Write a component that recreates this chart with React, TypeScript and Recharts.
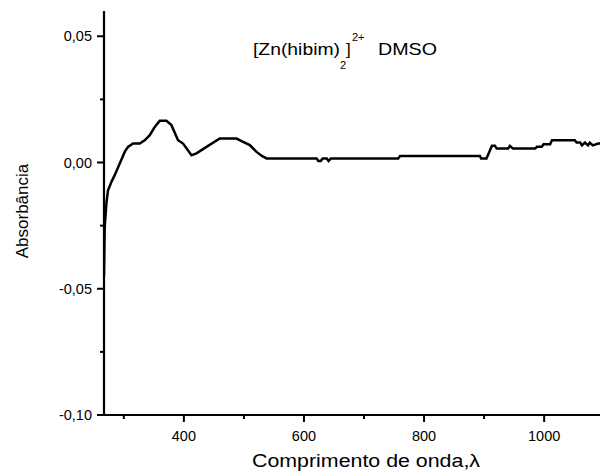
import React from 'react';
import { LineChart, Line, XAxis, YAxis } from 'recharts';

const wavelengths: number[] = [
  267, 268.2, 271, 273.7, 279.3, 284.8, 293.2, 301.5, 307, 315.3, 326.5, 334.8, 343.2, 351.5,
  359.8, 371, 379.3, 390.3, 398.7, 412.7, 421, 437.7, 459.8, 487.7, 498.7, 509.8, 521, 530,
  537.7, 621, 624, 628, 631, 638, 641, 645, 757, 760, 893, 895, 904, 913, 918, 921, 940, 943,
  948, 985, 988, 996, 999, 1010, 1013, 1051, 1054, 1060, 1063, 1068, 1073, 1076, 1081, 1090, 1093,
];
const absorbance: number[] = [
  -0.045, -0.0255, -0.0161, -0.011, -0.0077, -0.005, -0.0004, 0.0042, 0.0062, 0.0075, 0.0075,
  0.0088, 0.0108, 0.0141, 0.0165, 0.0165, 0.0148, 0.0088, 0.0075, 0.0029, 0.0036, 0.0062, 0.0095,
  0.0095, 0.0082, 0.0069, 0.0042, 0.0026, 0.0016, 0.0016, 0.0006, 0.0006, 0.0016, 0.0016, 0.0006,
  0.0016, 0.0016, 0.0026, 0.0026, 0.0016, 0.0016, 0.0066, 0.0066, 0.0055, 0.0055, 0.0066, 0.0055,
  0.0055, 0.0062, 0.0062, 0.0072, 0.0072, 0.0088, 0.0088, 0.0079, 0.0079, 0.0068, 0.0079, 0.0068,
  0.0079, 0.0068, 0.0075, 0.0075,
];
const xTicks: number[] = [300, 400, 500, 600, 700, 800, 900, 1000];
const xMajor: number[] = [400, 600, 800, 1000];
const yTicks: number[] = [-0.1, -0.075, -0.05, -0.025, 0, 0.025, 0.05];
const yMajor: number[] = [-0.1, -0.05, 0, 0.05];

const xTitle = 'Comprimento de onda,λ';
const yTitle = 'Absorbância';

const data = wavelengths.map((x, i) => ({ x, y: absorbance[i] }));

const FONT = '"Liberation Sans", Arial, sans-serif';

const XTick = (props: any) => {
  const { x, y, payload } = props;
  const major = xMajor.includes(payload.value);
  return (
    <g>
      <line x1={x} y1={y} x2={x} y2={y + (major ? 7 : 4)} stroke="#000" strokeWidth={2} />
      {major && (
        <text x={x} y={y + 26} textAnchor="middle" fontSize={14.5} fontFamily={FONT} fill="#000">
          {payload.value}
        </text>
      )}
    </g>
  );
};

const fmtY = (v: number) => v.toFixed(2).replace('.', ',');

const YTick = (props: any) => {
  const { x, y, payload } = props;
  const major = yMajor.some((m) => Math.abs(m - payload.value) < 1e-9);
  return (
    <g>
      <line x1={x} y1={y} x2={x - (major ? 7 : 4)} y2={y} stroke="#000" strokeWidth={2} />
      {major && (
        <text x={x - 12} y={y + 5} textAnchor="end" fontSize={14.5} fontFamily={FONT} fill="#000">
          {fmtY(payload.value)}
        </text>
      )}
    </g>
  );
};

export default function App() {
  return (
    <div
      style={{
        position: 'absolute',
        left: 0,
        top: 0,
        width: 600,
        height: 474,
        background: '#fff',
        overflow: 'hidden',
      }}
    >
      <LineChart width={620} height={474} data={data} margin={{ top: 11, right: 20, bottom: 0, left: 0 }}>
        <XAxis
          dataKey="x"
          type="number"
          domain={[267, 1093]}
          allowDataOverflow
          ticks={xTicks}
          interval={0}
          height={59}
          tickSize={0}
          tickMargin={0}
          tickLine={false}
          axisLine={{ stroke: '#000', strokeWidth: 2.2 }}
          tick={(p: any) => <XTick {...p} />}
        />
        <YAxis
          type="number"
          domain={[-0.1, 0.06]}
          allowDataOverflow
          ticks={yTicks}
          interval={0}
          width={104}
          tickSize={0}
          tickMargin={0}
          tickLine={false}
          axisLine={{ stroke: '#000', strokeWidth: 2.2 }}
          tick={(p: any) => <YTick {...p} />}
        />
        <Line
          dataKey="y"
          type="linear"
          stroke="#000"
          strokeWidth={2.5}
          dot={false}
          isAnimationActive={false}
        />
      </LineChart>
      <svg
        width={600}
        height={474}
        style={{ position: 'absolute', left: 0, top: 0, pointerEvents: 'none' }}
      >
        <g fontFamily={FONT} fill="#000">
          <text x={253} y={55} fontSize={17} textLength={87} lengthAdjust="spacingAndGlyphs">
            [Zn(hibim)
          </text>
          <text x={340} y={69} fontSize={11}>2</text>
          <text x={346} y={55} fontSize={17}>]</text>
          <text x={352} y={41} fontSize={11}>2+</text>
          <text x={378} y={55} fontSize={17} textLength={59} lengthAdjust="spacingAndGlyphs">
            DMSO
          </text>
          <text x={252} y={467} fontSize={18} textLength={228} lengthAdjust="spacingAndGlyphs">
            {xTitle}
          </text>
          <text
            x={0}
            y={0}
            fontSize={17}
            textAnchor="middle"
            transform="translate(28 211) rotate(-90)"
          >
            {yTitle}
          </text>
        </g>
      </svg>
    </div>
  );
}
